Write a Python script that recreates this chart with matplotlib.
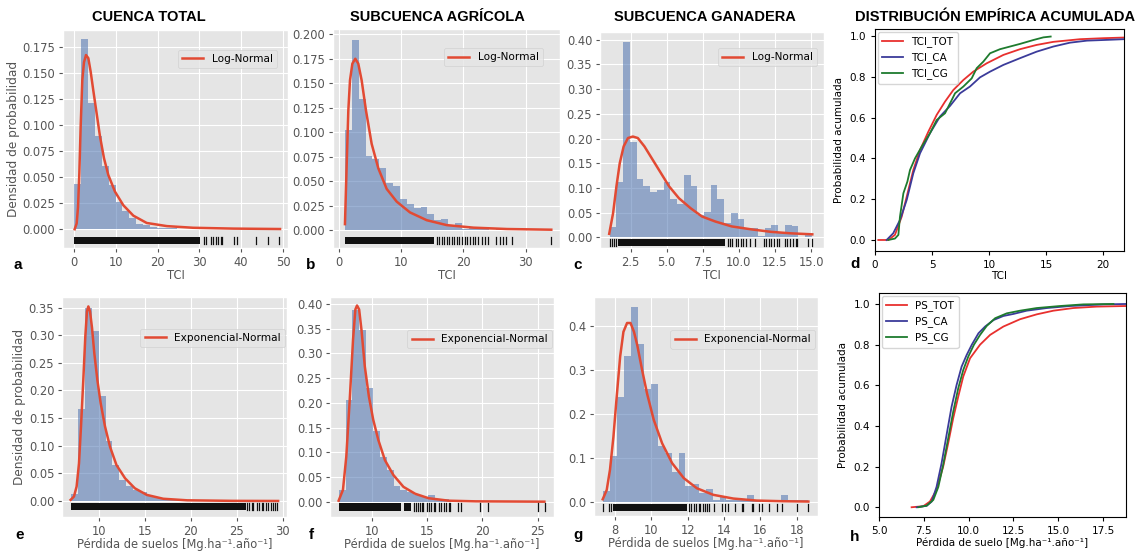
import numpy as np
import matplotlib.pyplot as plt

W, H = 1144, 553

# ---------------- histogramas (alturas de cada barra, 30 clases) ----------------
a_range = (0.1, 49.3)
a_heights = [0.043, 0.182, 0.121, 0.089, 0.061, 0.042, 0.026, 0.017, 0.011, 0.005,
             0.004, 0.002, 0.0015, 0.001, 0.0008, 0.0005, 0.0004, 0.0003, 0.0002, 0.0002,
             0.0001, 0.0001, 0.0001, 0.0001, 0.0, 0.0001, 0.0, 0.0001, 0.0, 0.0001]
b_range = (0.96, 34.1)
b_heights = [0.102, 0.194, 0.134, 0.076, 0.073, 0.063, 0.048, 0.045, 0.032, 0.027,
             0.022, 0.024, 0.016, 0.010, 0.011, 0.0045, 0.007, 0.001, 0.0035, 0.0015,
             0.0035, 0.0005, 0.001, 0.0005, 0.0003, 0.0003, 0.0002, 0.0, 0.0, 0.0002]
c_range = (1.05, 15.05)
c_heights = [0.020, 0.111, 0.395, 0.192, 0.118, 0.103, 0.091, 0.096, 0.111, 0.078,
             0.067, 0.126, 0.103, 0.045, 0.051, 0.105, 0.078, 0.028, 0.050, 0.037,
             0.018, 0.018, 0.003, 0.018, 0.024, 0.008, 0.024, 0.022, 0.0, 0.006]
e_range = (7.0, 29.3)
e_heights = [0.013, 0.166, 0.349, 0.307, 0.189, 0.109, 0.065, 0.038, 0.027, 0.020,
             0.016, 0.010, 0.007, 0.004, 0.003, 0.002, 0.0015, 0.001, 0.001, 0.0008,
             0.0005, 0.0005, 0.0003, 0.0003, 0.0002, 0.0002, 0.0002, 0.0001, 0.0001, 0.0001]
f_range = (7.03, 25.63)
f_heights = [0.024, 0.206, 0.388, 0.347, 0.230, 0.143, 0.091, 0.064, 0.032, 0.024,
             0.020, 0.014, 0.010, 0.014, 0.005, 0.005, 0.004, 0.001, 0.0005, 0.0005,
             0.0003, 0.0003, 0.0002, 0.0002, 0.0, 0.0, 0.0, 0.0, 0.0002, 0.0002]
g_range = (7.36, 18.64)
g_heights = [0.025, 0.105, 0.237, 0.332, 0.443, 0.358, 0.256, 0.267, 0.127, 0.110,
             0.067, 0.110, 0.036, 0.040, 0.021, 0.029, 0.005, 0.010, 0.005, 0.005,
             0.005, 0.015, 0.005, 0.0, 0.005, 0.0, 0.015, 0.005, 0.005, 0.005]

# ---------------- curvas ajustadas ----------------
a_fit_x = [0.16, 0.64, 0.96, 1.28, 1.59, 1.99, 2.39, 2.87, 3.43, 3.99, 4.62, 5.42, 6.22,
           7.18, 8.21, 9.81, 11.8, 14.2, 17.4, 22.2, 28.5, 38.1, 49.3]
a_fit_y = [0.0, 0.0055, 0.021, 0.054, 0.098, 0.143, 0.160, 0.167, 0.164, 0.151, 0.133,
           0.111, 0.089, 0.068, 0.052, 0.036, 0.023, 0.013, 0.006, 0.003, 0.0014, 0.0006, 0.0002]
b_fit_x = [0.96, 1.23, 1.50, 1.77, 2.15, 2.62, 3.10, 3.64, 4.34, 5.25, 6.32, 7.66, 9.27,
           11.4, 14.1, 17.3, 21.6, 27.0, 34.1]
b_fit_y = [0.006, 0.065, 0.122, 0.153, 0.170, 0.175, 0.170, 0.153, 0.122, 0.088, 0.063,
           0.042, 0.029, 0.018, 0.010, 0.005, 0.0024, 0.001, 0.0003]
c_fit_x = [1.02, 1.29, 1.52, 1.75, 2.02, 2.32, 2.66, 3.00, 3.46, 4.03, 4.60, 5.17, 5.85,
           6.65, 7.45, 8.36, 9.50, 10.87, 12.23, 13.6, 15.08]
c_fit_y = [0.007, 0.049, 0.103, 0.150, 0.184, 0.201, 0.204, 0.201, 0.184, 0.157, 0.130,
           0.103, 0.079, 0.059, 0.042, 0.032, 0.022, 0.016, 0.011, 0.008, 0.006]
e_fit_x = [6.91, 7.27, 7.56, 7.82, 8.04, 8.29, 8.51, 8.69, 8.84, 9.02, 9.24, 9.49, 9.82,
           10.18, 10.65, 11.2, 11.9, 12.84, 13.9, 15.2, 17.0, 19.6, 24.6, 29.5]
e_fit_y = [0.002, 0.008, 0.026, 0.068, 0.135, 0.219, 0.298, 0.343, 0.352, 0.343, 0.313,
           0.267, 0.219, 0.177, 0.135, 0.098, 0.065, 0.041, 0.023, 0.011, 0.004, 0.0012,
           0.0002, 0.0]
f_fit_x = [7.03, 7.42, 7.72, 8.03, 8.33, 8.54, 8.69, 8.88, 9.09, 9.39, 9.76, 10.15, 10.61,
           11.21, 11.97, 12.88, 13.94, 15.15, 16.97, 19.4, 25.6]
f_fit_y = [0.002, 0.024, 0.091, 0.206, 0.328, 0.389, 0.397, 0.389, 0.348, 0.274, 0.213,
           0.166, 0.125, 0.084, 0.054, 0.030, 0.016, 0.007, 0.002, 0.0007, 0.0]
g_fit_x = [7.32, 7.54, 7.72, 7.91, 8.09, 8.28, 8.46, 8.66, 8.85, 9.04, 9.22, 9.49, 9.76,
           10.13, 10.59, 11.14, 11.78, 12.5, 13.41, 14.51, 15.8, 17.27, 18.64]
g_fit_y = [0.006, 0.027, 0.073, 0.148, 0.239, 0.330, 0.386, 0.406, 0.406, 0.386, 0.356,
           0.299, 0.246, 0.186, 0.133, 0.088, 0.054, 0.031, 0.016, 0.0076, 0.003, 0.0015, 0.0008]

# ---------------- rug: tramos densos y marcas sueltas ----------------
a_rug_dense = [(0.1, 30.1)]
a_rug = [31.2, 31.7, 32.7, 33.3, 34.0, 34.5, 35.1, 35.5, 38.4, 38.9, 43.5, 46.3, 49.1]
b_rug_dense = [(0.96, 15.2)]
b_rug = [15.7, 16.07, 16.5, 16.9, 17.3, 17.7, 18.2, 18.5, 18.9, 19.3, 19.7, 20.3, 20.5,
         21.1, 21.5, 21.9, 22.4, 22.9, 23.5, 24.0, 25.2, 25.8, 26.4, 26.9, 27.8, 34.0]
c_rug_dense = [(1.6, 9.05)]
c_rug = [1.06, 1.22, 1.36, 1.47, 9.21, 9.37, 9.55, 9.83, 9.94, 10.12, 10.28, 10.51,
         10.74, 11.08, 11.72, 11.88, 12.11, 12.22, 12.45, 12.63, 12.79, 13.20, 13.36,
         13.54, 13.75, 13.93, 14.04, 14.77, 15.07]
e_rug_dense = [(7.0, 26.0)]
e_rug = [26.08, 26.37, 26.63, 26.81, 27.24, 27.46, 27.72, 27.9, 28.15, 28.44, 28.7,
         28.9, 29.17, 29.35]
f_rug_dense = [(7.03, 12.7), (12.9, 13.6)]
f_rug = [13.8, 14.0, 14.16, 14.39, 14.54, 14.69, 15.0, 15.21, 15.39, 15.6, 15.76, 16.06,
         16.27, 16.51, 16.76, 16.97, 17.12, 17.82, 18.12, 19.8, 20.52, 25.02, 25.62]
g_rug_dense = [(7.91, 11.96)]
g_rug = [7.36, 7.69, 7.78, 12.05, 12.18, 12.33, 12.47, 12.6, 12.69, 12.84, 12.97, 13.06,
         13.19, 13.42, 13.87, 14.06, 14.24, 14.6, 14.97, 15.06, 15.52, 15.61, 15.94,
         16.07, 16.49, 16.9, 17.17, 18.0, 18.64]

# ---------------- distribuciones empiricas acumuladas ----------------
tci_tot_x = [0.29, 1.17, 1.75, 2.34, 2.78, 3.36, 3.95, 4.68, 5.41, 6.14, 6.87, 7.75, 8.62,
             9.8, 11.26, 12.72, 14.18, 15.64, 17.98, 20.03, 21.8]
tci_tot_y = [0.0, 0.0, 0.025, 0.114, 0.212, 0.343, 0.441, 0.531, 0.613, 0.678, 0.735,
             0.784, 0.825, 0.866, 0.907, 0.935, 0.956, 0.971, 0.984, 0.989, 0.992]
tci_ca_x = [1.02, 1.6, 2.19, 2.78, 3.36, 3.95, 4.82, 5.7, 6.58, 7.46, 8.33, 9.21, 10.09,
            11.26, 12.72, 14.18, 15.64, 17.1, 18.6, 20.03, 21.8]
tci_ca_y = [0.0, 0.033, 0.098, 0.196, 0.327, 0.425, 0.523, 0.605, 0.657, 0.719, 0.752,
            0.797, 0.825, 0.858, 0.891, 0.923, 0.948, 0.967, 0.977, 0.980, 0.984]
tci_cg_x = [1.17, 1.75, 2.05, 2.19, 2.49, 2.84, 3.07, 3.51, 4.1, 4.82, 5.41, 6.14, 6.73,
            7.02, 7.75, 8.48, 8.92, 9.5, 10.09, 10.96, 11.84, 12.72, 13.89, 14.77, 15.41]
tci_cg_y = [0.0, 0.007, 0.025, 0.114, 0.229, 0.286, 0.343, 0.4, 0.458, 0.523, 0.588,
            0.621, 0.686, 0.719, 0.752, 0.792, 0.842, 0.874, 0.915, 0.935, 0.948, 0.961,
            0.980, 0.993, 0.997]

ps_tot_x = [6.82, 7.47, 7.84, 8.21, 8.58, 8.86, 9.14, 9.42, 9.7, 10.08, 10.64, 11.2,
            11.94, 12.87, 13.8, 14.73, 15.84, 17.14, 18.78]
ps_tot_y = [0.0, 0.005, 0.028, 0.085, 0.2, 0.315, 0.438, 0.544, 0.643, 0.733, 0.8, 0.848,
            0.889, 0.925, 0.949, 0.967, 0.98, 0.987, 0.99]
ps_ca_x = [7.1, 7.66, 7.94, 8.21, 8.49, 8.77, 9.05, 9.33, 9.61, 9.89, 10.18, 10.55, 10.92,
           11.39, 11.94, 12.5, 13.24, 14.36, 15.66, 17.52, 18.78]
ps_ca_y = [0.0, 0.007, 0.028, 0.1, 0.216, 0.356, 0.495, 0.602, 0.692, 0.749, 0.8, 0.856,
           0.889, 0.921, 0.941, 0.951, 0.967, 0.98, 0.99, 0.998, 1.0]
ps_cg_x = [7.19, 7.66, 8.03, 8.31, 8.58, 8.86, 9.14, 9.42, 9.7, 9.98, 10.3, 10.64, 11.01,
           11.48, 12.13, 12.87, 13.8, 15.1, 16.4, 18.08]
ps_cg_y = [0.0, 0.008, 0.036, 0.1, 0.208, 0.339, 0.47, 0.585, 0.675, 0.741, 0.8, 0.848,
           0.892, 0.93, 0.954, 0.967, 0.98, 0.99, 0.998, 1.0]

titles = ['CUENCA TOTAL', 'SUBCUENCA AGRÍCOLA', 'SUBCUENCA GANADERA',
          'DISTRIBUCIÓN EMPÍRICA ACUMULADA']
letters = ['a', 'b', 'c', 'd', 'e', 'f', 'g', 'h']

fig = plt.figure(figsize=(W / 100, H / 100), dpi=100)


def box(l, t, r, b):
    return [l / W, 1 - b / H, (r - l) / W, (b - t) / H]


def hist_panel(pos, rng, heights, fx, fy, fit_label, dense, ticks, rug_y,
               xlim, ylim, xticks, leg_anchor, xlabel, ylabel=None):
    ax = fig.add_axes(box(*pos))
    edges = np.linspace(rng[0], rng[1], len(heights) + 1)
    ax.bar(edges[:-1], heights, width=np.diff(edges), align='edge',
           color='#4C72B0', alpha=0.55, linewidth=0, zorder=2)
    ax.plot(fx, fy, color='#E24A33', lw=1.8, label=fit_label, zorder=3)
    for lo, hi in dense:
        ax.axvspan(lo, hi, ymin=rug_y[0], ymax=rug_y[1], color='#111111', lw=0, zorder=3)
    for t in ticks:
        ax.axvline(t, ymin=rug_y[0], ymax=rug_y[1], color='#111111', lw=0.9, zorder=3)
    ax.set_xlim(*xlim)
    ax.set_ylim(*ylim)
    ax.set_xticks(xticks)
    ax.tick_params(labelsize=8.3, colors='#555555', length=3, pad=2.5)
    ax.set_xlabel(xlabel, fontsize=8.3, color='#555555')
    # etiqueta x: borde superior ~21 px bajo el eje
    ax.xaxis.set_label_coords(0.5, -21 / (pos[3] - pos[1]))
    if ylabel:
        ax.set_ylabel(ylabel, fontsize=8.7, color='#555555', labelpad=2)
    ax.legend(loc='upper right', bbox_to_anchor=leg_anchor, borderaxespad=0,
              fontsize=7.6, framealpha=0.8)
    return ax


ps_label = 'Pérdida de suelos [Mg.ha⁻¹.año⁻¹]'
with plt.style.context('ggplot'):
    hist_panel((63, 30, 288, 248), a_range, a_heights, a_fit_x, a_fit_y, 'Log-Normal',
               a_rug_dense, a_rug, (0.017, 0.05), (-2.63, 51.2), (-0.018, 0.191),
               [0, 10, 20, 30, 40, 50], (0.95, 0.91), 'TCI', 'Densidad de probabilidad')
    hist_panel((333, 29, 560, 248), b_range, b_heights, b_fit_x, b_fit_y, 'Log-Normal',
               b_rug_dense, b_rug, (0.018, 0.049), (-0.96, 35.5), (-0.0184, 0.2054),
               [0, 10, 20, 30], (0.925, 0.913), 'TCI')
    hist_panel((600, 32, 824, 248), c_range, c_heights, c_fit_x, c_fit_y, 'Log-Normal',
               c_rug_dense, c_rug, (0.009, 0.04), (0.383, 15.89), (-0.0217, 0.4157),
               [2.5, 5.0, 7.5, 10.0, 12.5, 15.0], (0.969, 0.926), 'TCI')
    hist_panel((62, 297, 287, 517), e_range, e_heights, e_fit_x, e_fit_y,
               'Exponencial-Normal', e_rug_dense, e_rug, (0.032, 0.062), (5.97, 30.47),
               (-0.029, 0.369), [10, 15, 20, 25, 30], (0.991, 0.855), ps_label,
               'Densidad de probabilidad')
    hist_panel((330, 297, 554, 517), f_range, f_heights, f_fit_x, f_fit_y,
               'Exponencial-Normal', f_rug_dense, f_rug, (0.029, 0.062), (6.25, 26.47),
               (-0.031, 0.4142), [10, 15, 20, 25], (0.991, 0.85), ps_label)
    hist_panel((594, 297, 818, 516), g_range, g_heights, g_fit_x, g_fit_y,
               'Exponencial-Normal', g_rug_dense, g_rug, (0.024, 0.055), (6.84, 19.17),
               (-0.032, 0.465), [8, 10, 12, 14, 16, 18], (0.987, 0.849), ps_label)


def ecdf_panel(pos, series, xlim, ylim, xticks, xlabel):
    ax = fig.add_axes(box(*pos))
    for x, y, lab, col in series:
        ax.plot(x, y, color=col, lw=1.3, label=lab)
    ax.set_xlim(*xlim)
    ax.set_ylim(*ylim)
    ax.set_xticks(xticks)
    ax.tick_params(labelsize=7.5, length=3)
    ax.set_xlabel(xlabel, fontsize=7.5, labelpad=1)
    ax.set_ylabel('Probabilidad acumulada', fontsize=7.5)
    ax.legend(loc='upper left', fontsize=7.5, borderaxespad=0.3)
    return ax


red, blue, green = '#E8302E', '#3B3B9A', '#1E7B2E'
ecdf_panel((875, 29, 1124, 251),
           [(tci_tot_x, tci_tot_y, 'TCI_TOT', red), (tci_ca_x, tci_ca_y, 'TCI_CA', blue),
            (tci_cg_x, tci_cg_y, 'TCI_CG', green)],
           (0, 21.84), (-0.054, 1.034), [0, 5, 10, 15, 20], 'TCI')
ax_h = ecdf_panel((879, 293, 1126, 517),
                  [(ps_tot_x, ps_tot_y, 'PS_TOT', red), (ps_ca_x, ps_ca_y, 'PS_CA', blue),
                   (ps_cg_x, ps_cg_y, 'PS_CG', green)],
                  (5, 18.78), (-0.048, 1.054), [5.0, 7.5, 10.0, 12.5, 15.0, 17.5],
                  'Pérdida de suelo [Mg.ha⁻¹.año⁻¹]')
ax_h.set_xticklabels(['5.0', '7.5', '10.0', '12.5', '15.0', '17.5'])

# titulos de columna
for txt, xc in zip(titles, [149, 437, 705, 995]):
    fig.text(xc / W, 1 - 17 / H, txt, ha='center', va='center', fontsize=10.5,
             fontweight='bold', family='Liberation Sans')

# letras de panel
for let, (xp, yp) in zip(letters, [(18, 265), (311, 265), (578, 265), (855, 264),
                                   (20, 535), (311, 535), (578, 535), (855, 537)]):
    fig.text(xp / W, 1 - yp / H, let, ha='center', va='center', fontsize=11,
             fontweight='bold', family='Liberation Sans')

fig.savefig('out.png', dpi=100)
